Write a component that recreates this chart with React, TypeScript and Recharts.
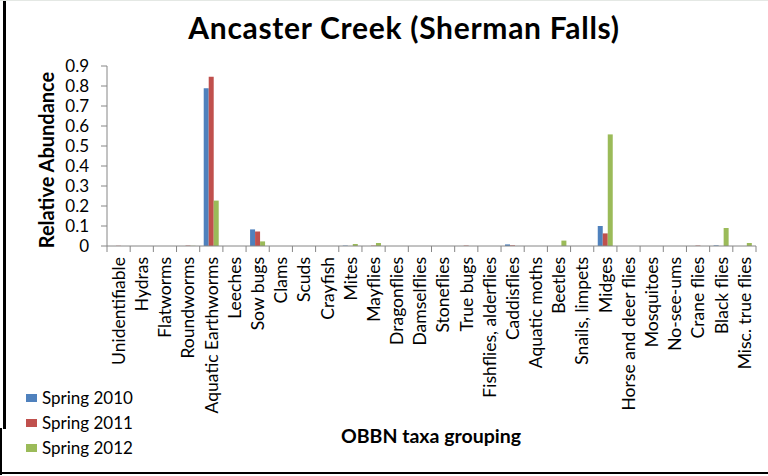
import React from 'react';
import { BarChart, Bar, XAxis, YAxis, Legend, Label } from 'recharts';

const categories = [
  'Unidentifiable', 'Hydras', 'Flatworms', 'Roundworms', 'Aquatic Earthworms',
  'Leeches', 'Sow bugs', 'Clams', 'Scuds', 'Crayfish', 'Mites', 'Mayflies',
  'Dragonflies', 'Damselflies', 'Stoneflies', 'True bugs', 'Fishflies, alderflies',
  'Caddisflies', 'Aquatic moths', 'Beetles', 'Snails, limpets', 'Midges',
  'Horse and deer flies', 'Mosquitoes', 'No-see-ums', 'Crane flies', 'Black flies',
  'Misc. true flies',
];

const spring2010 = [
  0, 0, 0, 0, 0.789, 0, 0.083, 0, 0, 0, 0.002, 0, 0, 0, 0, 0, 0, 0.008, 0, 0, 0,
  0.1, 0, 0, 0, 0, 0.003, 0,
];
const spring2011 = [
  0.001, 0, 0, 0.002, 0.846, 0, 0.073, 0, 0, 0, 0, 0.002, 0, 0, 0, 0.002, 0, 0.003,
  0, 0, 0, 0.063, 0, 0, 0, 0.002, 0, 0,
];
const spring2012 = [
  0, 0, 0, 0.001, 0.227, 0, 0.023, 0, 0, 0, 0.01, 0.015, 0, 0, 0, 0, 0, 0, 0, 0.027,
  0, 0.558, 0, 0, 0, 0, 0.09, 0.015,
];

const yTicks = [0, 0.1, 0.2, 0.3, 0.4, 0.5, 0.6, 0.7, 0.8, 0.9];

const series = [
  { key: 'spring2010', name: 'Spring 2010', color: '#4F81BD' },
  { key: 'spring2011', name: 'Spring 2011', color: '#C0504D' },
  { key: 'spring2012', name: 'Spring 2012', color: '#9BBB59' },
];

const data = categories.map((name, i) => ({
  name,
  spring2010: spring2010[i],
  spring2011: spring2011[i],
  spring2012: spring2012[i],
}));

const FONT = 'Lato, "Noto Sans", sans-serif';
const AXIS = '#868686';
const PLOT_LEFT = 107;
const PLOT_RIGHT = 756;
const PLOT_TOP = 66;
const PLOT_BOTTOM = 246;
const BAND = (PLOT_RIGHT - PLOT_LEFT) / categories.length;

// category ticks sit between groups, like the spreadsheet original
function CategoryTick(props: any) {
  const { x, payload, index } = props;
  const last = index === categories.length - 1;
  return (
    <g>
      <line x1={x - BAND / 2} x2={x - BAND / 2} y1={PLOT_BOTTOM} y2={PLOT_BOTTOM + 6} stroke={AXIS} />
      {last && (
        <line x1={x + BAND / 2} x2={x + BAND / 2} y1={PLOT_BOTTOM} y2={PLOT_BOTTOM + 6} stroke={AXIS} />
      )}
      <g transform={`translate(${x},${PLOT_BOTTOM + 11})`}>
        <text transform="rotate(-90)" textAnchor="end" dy="0.36em" fontSize={17.5} fill="#000" fontFamily={FONT}>
          {payload.value}
        </text>
      </g>
    </g>
  );
}

function LegendBox() {
  return (
    <div style={{ fontFamily: FONT, fontSize: 17, color: '#000' }}>
      {series.map((s) => (
        <div key={s.key} style={{ display: 'flex', alignItems: 'center', height: 25, whiteSpace: 'nowrap' }}>
          <span
            style={{ width: 11, height: 8, flexShrink: 0, background: s.color, marginRight: 5, display: 'inline-block' }}
          />
          {s.name}
        </div>
      ))}
    </div>
  );
}

export default function App() {
  return (
    <div
      style={{
        position: 'absolute',
        left: 0,
        top: 0,
        width: 768,
        height: 476,
        background: '#fff',
        fontFamily: FONT,
      }}
    >
      <div style={{ position: 'absolute', left: 3, top: 0, width: 3, height: 429, background: '#000' }} />
      <div style={{ position: 'absolute', left: 0, top: 428, width: 2, height: 47, background: '#000' }} />
      <div style={{ position: 'absolute', left: 0, top: 472, width: 768, height: 2, background: '#000' }} />
      <div style={{ position: 'absolute', left: 0, top: 0, width: 768, height: 1, background: '#e4e8e4' }} />
      <div
        style={{
          position: 'absolute',
          left: 404,
          top: 9,
          transform: 'translateX(-50%)',
          fontSize: 30,
          fontWeight: 700,
          letterSpacing: 0.7,
          whiteSpace: 'nowrap',
          color: '#000',
        }}
      >
        Ancaster Creek (Sherman Falls)
      </div>
      <BarChart
        width={768}
        height={476}
        data={data}
        barSize={5}
        barGap={0}
        margin={{ top: PLOT_TOP, right: 768 - PLOT_RIGHT, bottom: 0, left: 0 }}
      >
        <XAxis
          dataKey="name"
          interval={0}
          height={476 - PLOT_BOTTOM}
          tickLine={false}
          axisLine={{ stroke: AXIS }}
          tick={<CategoryTick />}
        >
          <Label
            content={() => (
              <text
                x={431}
                y={443}
                textAnchor="middle"
                fontSize={19.5}
                fontWeight={700}
                fontFamily={FONT}
                fill="#000"
              >
                OBBN taxa grouping
              </text>
            )}
          />
        </XAxis>
        <YAxis
          width={PLOT_LEFT - 20}
          domain={[0, 0.9]}
          ticks={yTicks}
          interval={0}
          tickSize={6}
          tickMargin={12}
          axisLine={{ stroke: AXIS }}
          tickLine={{ stroke: AXIS }}
          tick={{ fontSize: 17, fill: '#000', fontFamily: FONT }}
          tickFormatter={(v: number) => String(v)}
        >
          <Label
            content={() => (
              <text
                transform="translate(54,160) rotate(-90)"
                textAnchor="middle"
                fontSize={20}
                fontWeight={700}
                fontFamily={FONT}
                fill="#000"
              >
                Relative Abundance
              </text>
            )}
          />
        </YAxis>
        <Legend
          layout="vertical"
          align="left"
          verticalAlign="bottom"
          width={20}
          content={() => <LegendBox />}
          wrapperStyle={{ left: 26, top: 385, bottom: 'auto', width: 20 }}
        />
        {series.map((s) => (
          <Bar key={s.key} dataKey={s.key} name={s.name} fill={s.color} isAnimationActive={false} />
        ))}
      </BarChart>
    </div>
  );
}
